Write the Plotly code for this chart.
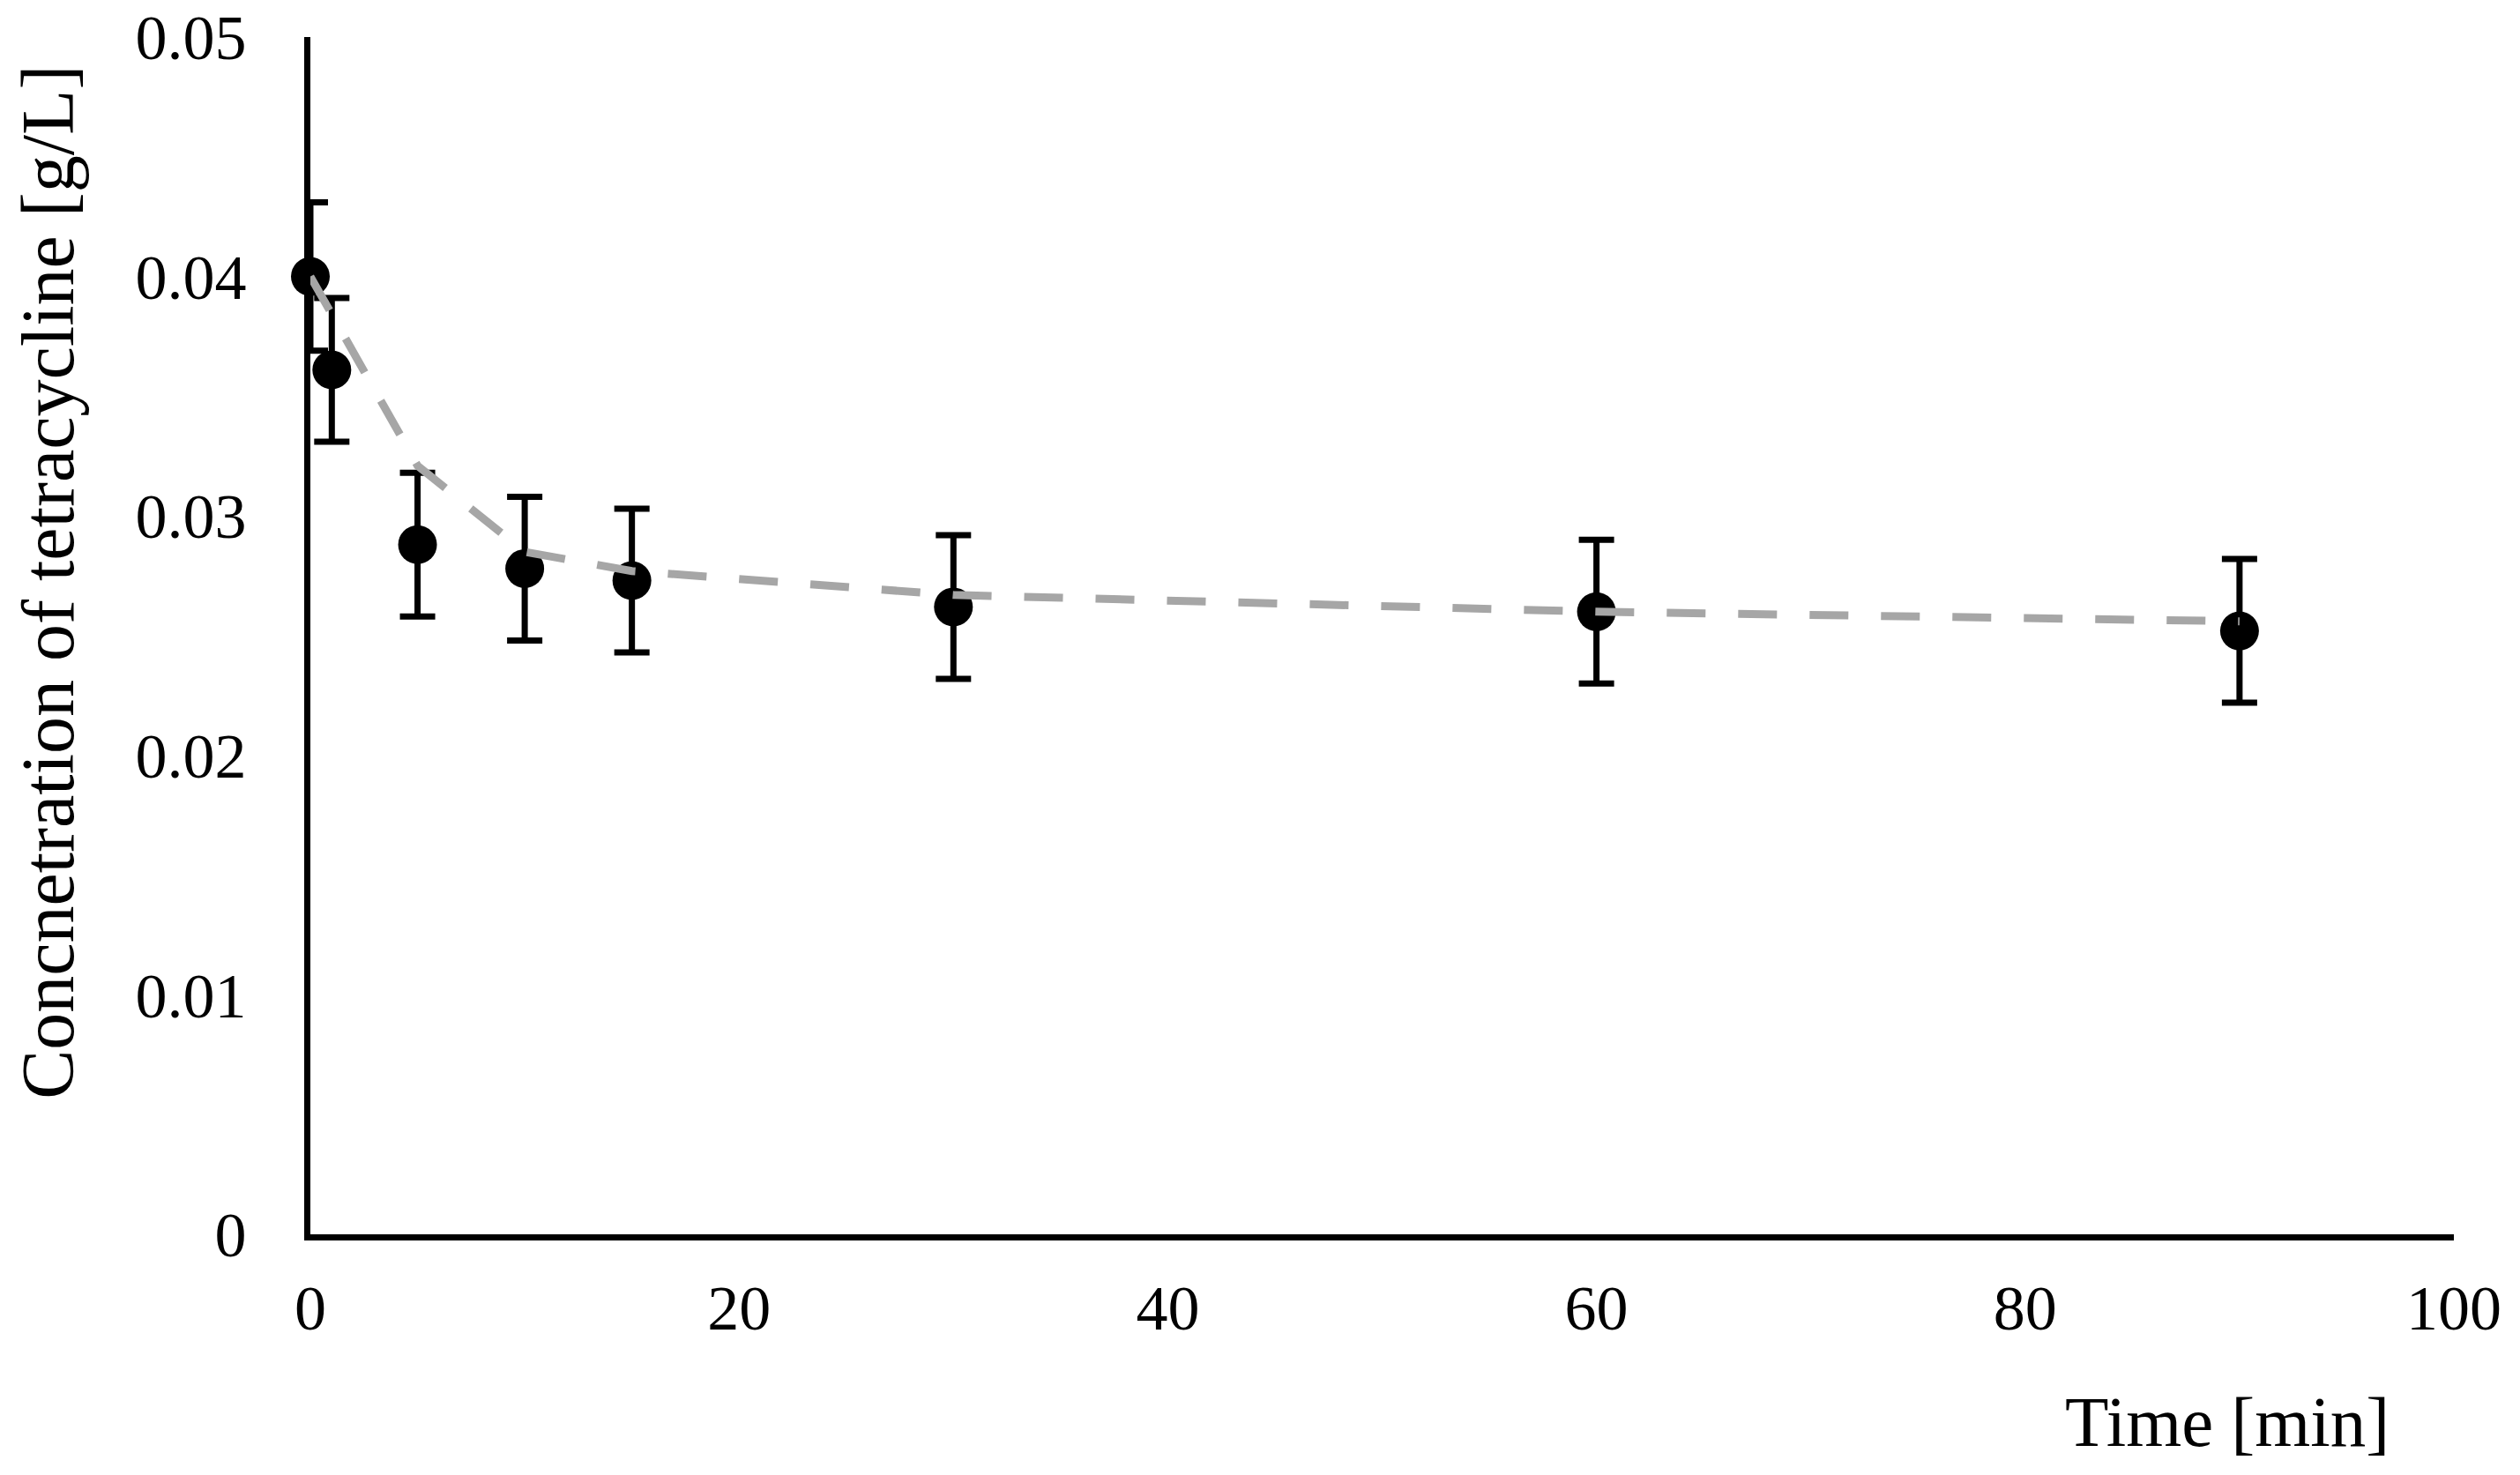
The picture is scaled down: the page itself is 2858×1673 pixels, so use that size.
import plotly.graph_objects as go

time_min = [0, 1, 5, 10, 15, 30, 60, 90]
conc = [0.0400, 0.0361, 0.0288, 0.0278, 0.0273, 0.0262, 0.0260, 0.0252]
conc_err = [0.0031, 0.0030, 0.0030, 0.0030, 0.0030, 0.0030, 0.0030, 0.0030]
fit = [0.0400, 0.0384, 0.0321, 0.0285, 0.0277, 0.0267, 0.0260, 0.0256]

x_ticks = [0, 20, 40, 60, 80, 100]
y_ticks = [0, 0.01, 0.02, 0.03, 0.04, 0.05]
y_ticktext = ["0", "0.01", "0.02", "0.03", "0.04", "0.05"]

FONT = "Liberation Serif, Times New Roman, serif"

fig = go.Figure()
fig.add_trace(go.Scatter(
    x=time_min, y=conc, mode="markers",
    marker=dict(color="black", size=44, line=dict(width=0)),
    error_y=dict(type="data", array=conc_err, visible=True,
                 color="black", thickness=7, width=20),
    cliponaxis=False, showlegend=False,
))
fig.add_trace(go.Scatter(
    x=time_min, y=fit, mode="lines",
    line=dict(color="#a6a6a6", width=9, dash="44px,37px"),
    showlegend=False,
))

fig.update_layout(
    template="none",
    width=2858, height=1673,
    margin=dict(l=344, r=83, t=34, b=281, autoexpand=False),
    paper_bgcolor="white", plot_bgcolor="white",
    font=dict(family=FONT, color="black", size=72),
    xaxis=dict(range=[0, 100], tickvals=x_ticks, ticktext=[str(v) for v in x_ticks],
               showline=True, linecolor="black", linewidth=7, showgrid=False,
               zeroline=False, ticks="", ticklabelstandoff=15, automargin=False,
               ticklabeloverflow="allow",
               tickfont=dict(family=FONT, size=72, color="black")),
    yaxis=dict(range=[0, 0.05], tickvals=y_ticks, ticktext=y_ticktext,
               showline=True, linecolor="black", linewidth=7, showgrid=False,
               zeroline=False, ticks="", ticklabelstandoff=51, automargin=False,
               ticklabeloverflow="allow",
               tickfont=dict(family=FONT, size=72, color="black")),
    annotations=[
        dict(text="Time [min]", xref="paper", yref="paper", x=0.9708, y=-0.157,
             xanchor="right", yanchor="middle", showarrow=False,
             font=dict(family=FONT, size=81, color="black")),
        dict(text="Concnetration of tetracycline [g/L]", xref="paper", yref="paper",
             x=-0.1222, y=0.545, xanchor="center", yanchor="middle", textangle=-90,
             showarrow=False, font=dict(family=FONT, size=84, color="black")),
    ],
)

fig.write_html("out.html")
